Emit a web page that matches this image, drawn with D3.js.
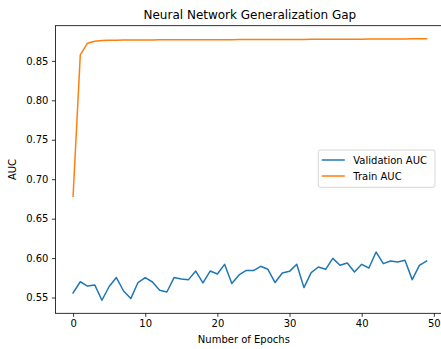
<!DOCTYPE html>
<html>
<head>
<meta charset="utf-8">
<script src="https://cdn.jsdelivr.net/npm/d3@7"></script>
<style>
  body { margin: 0; background: #fff; }
  svg { display: block; font-family: "DejaVu Sans", sans-serif; }
</style>
</head>
<body>
<div id="chart"></div>
<script>
// values
const epochs = d3.range(0, 50);

const validationAUC = [
    0.5558, 0.5700, 0.5645, 0.5660, 0.5466, 0.5640, 0.5753, 0.5583, 0.5487, 0.5690,
    0.5753, 0.5697, 0.5592, 0.5570, 0.5753, 0.5735, 0.5727, 0.5836, 0.5685, 0.5836,
    0.5799, 0.5921, 0.5677, 0.5786, 0.5843, 0.5842, 0.5896, 0.5858, 0.5690, 0.5811,
    0.5832, 0.5921, 0.5626, 0.5816, 0.5887, 0.5858, 0.5997, 0.5910, 0.5938, 0.5824,
    0.5921, 0.5874, 0.6077, 0.5930, 0.5963, 0.5950, 0.5972, 0.5727, 0.5908, 0.5963
];

const trainAUC = [
    0.6784, 0.8576, 0.8724, 0.8749, 0.8757, 0.8760, 0.8762, 0.8763, 0.8764, 0.8765,
    0.8766, 0.8766, 0.8767, 0.8767, 0.8767, 0.8768, 0.8768, 0.8768, 0.8769, 0.8768,
    0.8769, 0.8769, 0.8769, 0.8770, 0.8770, 0.8770, 0.8771, 0.8771, 0.8771, 0.8772,
    0.8772, 0.8772, 0.8772, 0.8773, 0.8773, 0.8773, 0.8774, 0.8774, 0.8775, 0.8775,
    0.8775, 0.8776, 0.8776, 0.8777, 0.8777, 0.8778, 0.8778, 0.8779, 0.8779, 0.8780
];

const xTicks = [0, 10, 20, 30, 40, 50];
const yTicks = [0.55, 0.60, 0.65, 0.70, 0.75, 0.80, 0.85];

const series = [
    {label: "Validation AUC", values: validationAUC, color: "#1f77b4"},
    {label: "Train AUC", values: trainAUC, color: "#ff7f0e"}
];

const width = 441, height = 349;
const margin = {top: 25.7, left: 55.4, bottom: 35.7};
const plotW = 388.9;   // right spine falls just outside the picture
const plotH = height - margin.top - margin.bottom;

const svg = d3.select("#chart").append("svg")
    .attr("width", width)
    .attr("height", height);

const g = svg.append("g")
    .attr("transform", `translate(${margin.left},${margin.top})`);

// matplotlib style 5% padding around the data
const xPad = (49 - 0) * 0.05;
const x = d3.scaleLinear()
    .domain([0 - xPad, 49 + xPad])
    .range([0, plotW]);

const allY = validationAUC.concat(trainAUC);
const yMin = d3.min(allY), yMax = d3.max(allY);
const yPad = (yMax - yMin) * 0.05;
const y = d3.scaleLinear()
    .domain([yMin - yPad, yMax + yPad])
    .range([plotH, 0]);

// lines
const line = d3.line()
    .x((d, i) => x(epochs[i]))
    .y(d => y(d));

series.forEach(s => {
    g.append("path")
        .datum(s.values)
        .attr("fill", "none")
        .attr("stroke", s.color)
        .attr("stroke-width", 1.5)
        .attr("stroke-linejoin", "round")
        .attr("stroke-linecap", "square")
        .attr("d", line);
});

// axes
const xAxis = g.append("g")
    .attr("transform", `translate(0,${plotH})`)
    .call(d3.axisBottom(x).tickValues(xTicks).tickSize(3.5).tickPadding(3.5).tickFormat(d3.format("d")));

const yAxis = g.append("g")
    .call(d3.axisLeft(y).tickValues(yTicks).tickSize(3.5).tickPadding(3.5).tickFormat(d3.format(".2f")));

[xAxis, yAxis].forEach(ax => {
    ax.select(".domain").remove();
    ax.selectAll(".tick line").attr("stroke", "#000").attr("stroke-width", 0.8);
    ax.selectAll(".tick text")
        .attr("fill", "#000")
        .style("font-size", "10px")
        .style("font-family", "DejaVu Sans, sans-serif");
});

// spines
g.append("rect")
    .attr("x", 0).attr("y", 0)
    .attr("width", plotW).attr("height", plotH)
    .attr("fill", "none")
    .attr("stroke", "#000")
    .attr("stroke-width", 0.8);

// title and labels
svg.append("text")
    .attr("x", margin.left + plotW / 2)
    .attr("y", margin.top - 6.5)
    .attr("text-anchor", "middle")
    .style("font-size", "12px")
    .text("Neural Network Generalization Gap");

svg.append("text")
    .attr("x", margin.left + plotW / 2 - 6)
    .attr("y", 342.5)
    .attr("text-anchor", "middle")
    .style("font-size", "10px")
    .text("Number of Epochs");

svg.append("text")
    .attr("transform", `translate(15.5,${margin.top + plotH / 2}) rotate(-90)`)
    .attr("text-anchor", "middle")
    .style("font-size", "10px")
    .text("AUC");

// legend
const legend = svg.append("g")
    .attr("transform", "translate(318.3,150)");

legend.append("rect")
    .attr("width", 116.7)
    .attr("height", 37.3)
    .attr("rx", 2)
    .attr("fill", "#fff")
    .attr("fill-opacity", 0.8)
    .attr("stroke", "#cccccc")
    .attr("stroke-width", 0.8);

series.forEach((s, i) => {
    const row = legend.append("g")
        .attr("transform", `translate(0,${10 + i * 16})`);
    row.append("line")
        .attr("x1", 3.5).attr("x2", 26.5)
        .attr("stroke", s.color)
        .attr("stroke-width", 1.5);
    row.append("text")
        .attr("x", 35)
        .attr("dy", "0.35em")
        .style("font-size", "10px")
        .text(s.label);
});
</script>
</body>
</html>
